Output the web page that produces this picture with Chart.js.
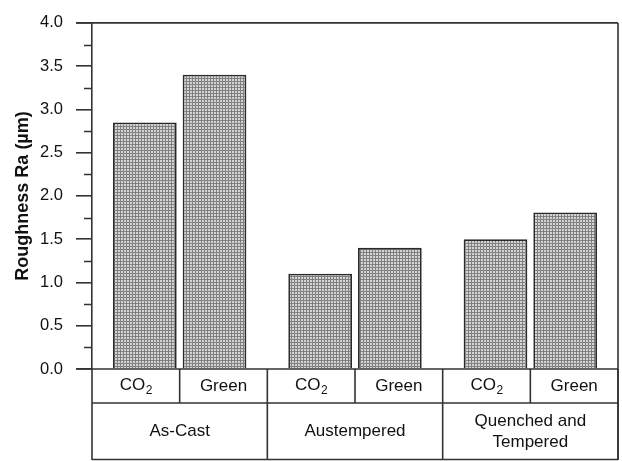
<!DOCTYPE html>
<html>
<head>
<meta charset="utf-8">
<script src="https://cdn.jsdelivr.net/npm/chart.js@4.4.1/dist/chart.umd.min.js"></script>
<style>
  html, body { margin: 0; padding: 0; background: #ffffff; }
  #wrap { width: 622px; height: 461px; position: relative; }
</style>
</head>
<body>
<div id="wrap"><canvas id="c" width="622" height="461"></canvas></div>
<script>
// Heat-treatment groups along the x axis, and the sand moulds inside each group
const treatments = ['As-Cast', 'Austempered', 'Quenched and Tempered'];
const treatmentLines = [['As-Cast'], ['Austempered'], ['Quenched and', 'Tempered']];
const moulds = ['CO2', 'Green'];

// Surface roughness Ra (µm)
const co2Ra = [2.85, 1.10, 1.50];
const greenRa = [3.40, 1.40, 1.81];

// y axis: labelled every 0.5, minor marks in between
const yMajorStep = 0.5;
const yMinorTicks = [0.25, 0.75, 1.25, 1.75, 2.25, 2.75, 3.25, 3.75];

const FONT = '"Liberation Sans", Arial, Helvetica, sans-serif';
const LINE = '#333333';
const TABLE_FONT = 17;

// fine checked screen used for the bar fill
function checkPattern() {
  const t = document.createElement('canvas');
  t.width = 3; t.height = 3;
  const g = t.getContext('2d');
  g.fillStyle = '#d4d4d4';
  g.fillRect(0, 0, 3, 3);
  g.fillStyle = '#808080';
  g.fillRect(0, 0, 3, 1);
  g.fillRect(0, 0, 1, 3);
  return g.createPattern(t, 'repeat');
}

// frame, minor ticks and the two-row category table under the plot
const frameAndTable = {
  id: 'frameAndTable',
  afterDraw(chart) {
    const { ctx, chartArea: a, scales: { x, y } } = chart;
    const rowMid = a.bottom + 34;
    const rowEnd = 460;
    const tickOut = 16;
    ctx.save();
    ctx.strokeStyle = LINE;
    ctx.lineWidth = 1.6;

    // top border and right border of the plot
    ctx.beginPath();
    ctx.moveTo(a.left - tickOut, y.getPixelForValue(4));
    ctx.lineTo(a.right, y.getPixelForValue(4));
    ctx.moveTo(a.right, y.getPixelForValue(4));
    ctx.lineTo(a.right, rowEnd);
    // base line
    ctx.moveTo(a.left - tickOut, y.getPixelForValue(0));
    ctx.lineTo(a.right, y.getPixelForValue(0));
    ctx.stroke();

    // minor ticks
    ctx.beginPath();
    yMinorTicks.forEach(v => {
      const py = Math.round(y.getPixelForValue(v)) + 0.5;
      ctx.moveTo(a.left - 8, py);
      ctx.lineTo(a.left, py);
    });
    ctx.stroke();

    // table grid
    const step = x.getPixelForValue(1) - x.getPixelForValue(0);
    ctx.beginPath();
    ctx.moveTo(a.left, a.bottom);
    ctx.lineTo(a.left, rowEnd);
    ctx.moveTo(a.left, rowMid);
    ctx.lineTo(a.right, rowMid);
    ctx.moveTo(a.left, rowEnd - 0.5);
    ctx.lineTo(a.right, rowEnd - 0.5);
    treatments.forEach((t, i) => {
      const c = x.getPixelForValue(i);
      ctx.moveTo(c, a.bottom);
      ctx.lineTo(c, rowMid);
      ctx.moveTo(c + step / 2, a.bottom);
      ctx.lineTo(c + step / 2, rowEnd);
    });
    ctx.stroke();

    // labels
    ctx.fillStyle = '#111';
    ctx.textBaseline = 'middle';
    treatments.forEach((t, i) => {
      const c = x.getPixelForValue(i);
      moulds.forEach((m, j) => {
        const cx = c + (j === 0 ? -step / 4 : step / 4);
        const cy = (a.bottom + rowMid) / 2;
        if (m === 'CO2') {
          ctx.font = TABLE_FONT + 'px ' + FONT;
          const w1 = ctx.measureText('CO').width;
          ctx.font = '12px ' + FONT;
          const w2 = ctx.measureText('2').width;
          const sx = cx - (w1 + w2) / 2;
          ctx.textAlign = 'left';
          ctx.font = TABLE_FONT + 'px ' + FONT;
          ctx.fillText('CO', sx, cy - 1);
          ctx.font = '12px ' + FONT;
          ctx.fillText('2', sx + w1 + 0.5, cy + 5);
        } else {
          ctx.font = TABLE_FONT + 'px ' + FONT;
          ctx.textAlign = 'center';
          ctx.fillText(m, cx, cy);
        }
      });
      const lines = treatmentLines[i];
      const cy = (rowMid + rowEnd) / 2;
      ctx.font = TABLE_FONT + 'px ' + FONT;
      ctx.textAlign = 'center';
      lines.forEach((ln, k) => {
        ctx.fillText(ln, c, cy + (k - (lines.length - 1) / 2) * 21);
      });
    });
    ctx.restore();
  }
};

const pat = checkPattern();

new Chart(document.getElementById('c'), {
  type: 'bar',
  data: {
    labels: treatments,
    datasets: [
      { label: moulds[0], data: co2Ra, backgroundColor: pat, borderColor: '#2a2a2a', borderWidth: 1.8,
        categoryPercentage: 0.795, barPercentage: 0.914 },
      { label: moulds[1], data: greenRa, backgroundColor: pat, borderColor: '#2a2a2a', borderWidth: 1.8,
        categoryPercentage: 0.795, barPercentage: 0.914 }
    ]
  },
  options: {
    responsive: false,
    animation: false,
    devicePixelRatio: 1,
    layout: { padding: { top: 20, right: 4, bottom: 92, left: 0 } },
    plugins: { legend: { display: false }, tooltip: { enabled: false } },
    scales: {
      x: { display: false },
      y: {
        min: 0, max: 4,
        afterFit(scale) { scale.width = 92; },
        ticks: {
          stepSize: yMajorStep,
          padding: 13,
          color: '#111',
          font: { family: FONT, size: 16.5 },
          callback: v => Number(v).toFixed(1)
        },
        grid: { drawOnChartArea: false, tickLength: 16, color: LINE, lineWidth: 1.6 },
        border: { display: true, color: LINE, width: 1.6 },
        title: {
          display: true,
          text: 'Roughness Ra (µm)',
          color: '#111',
          font: { family: FONT, size: 18, weight: 'bold' },
          padding: { top: 12, bottom: 0 }
        }
      }
    }
  },
  plugins: [frameAndTable]
});
</script>
</body>
</html>
